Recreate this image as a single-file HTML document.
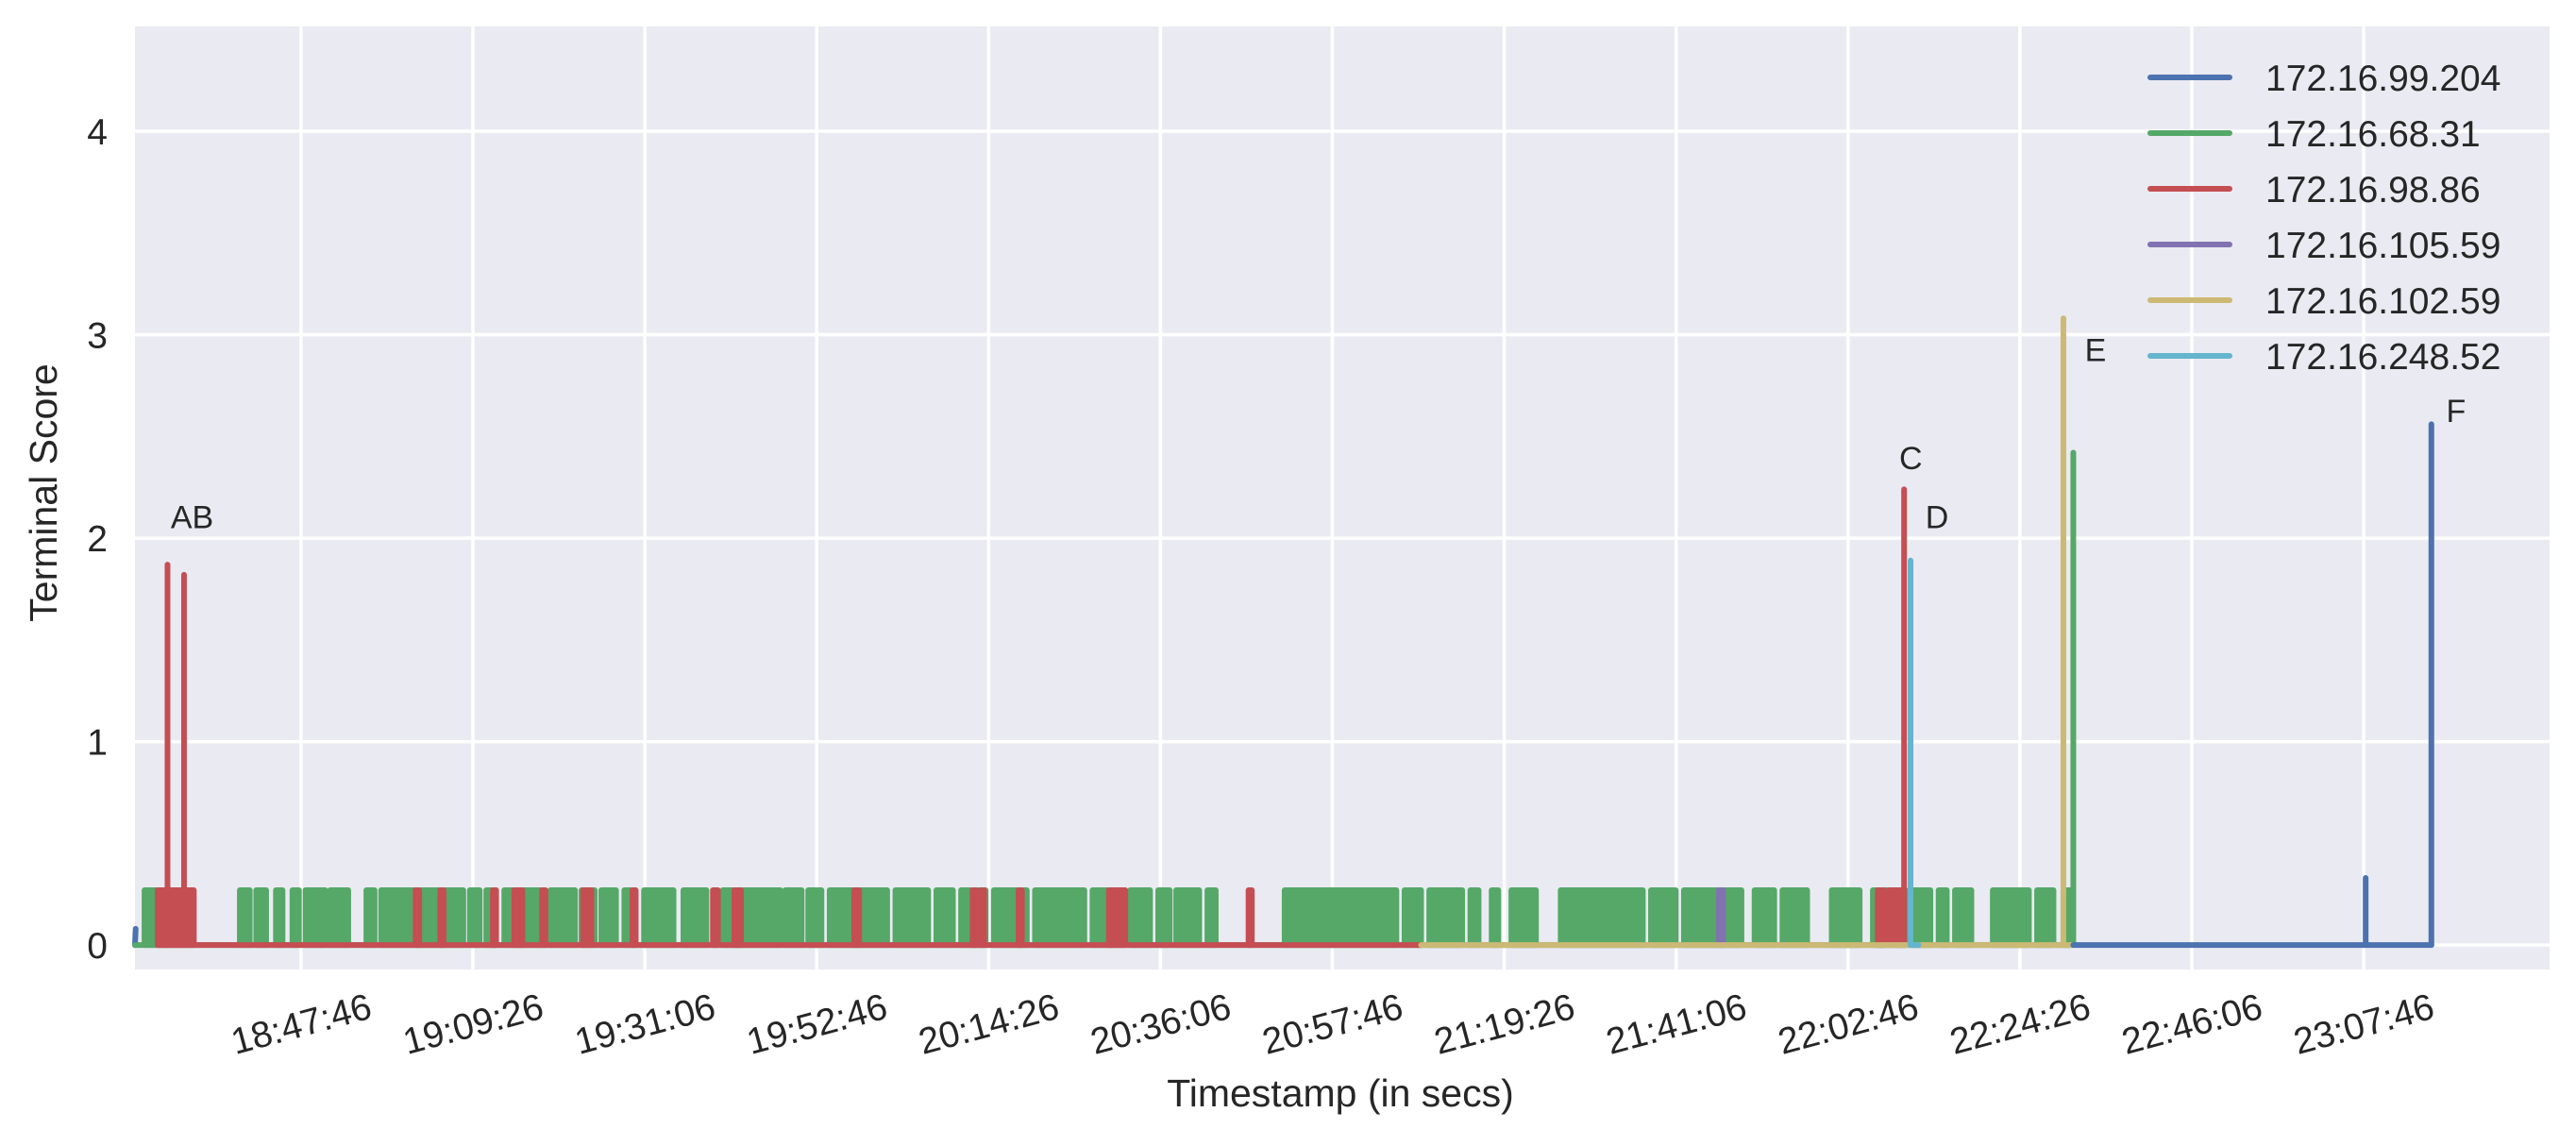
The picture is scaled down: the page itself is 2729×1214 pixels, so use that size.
<!DOCTYPE html>
<html><head><meta charset="utf-8"><style>
html,body{margin:0;padding:0;background:#fff;}
svg{display:block;font-family:"Liberation Sans",sans-serif;}
</style></head><body>
<svg id="chart" width="2729" height="1214" viewBox="0 0 2729 1214" xmlns="http://www.w3.org/2000/svg"></svg>
<script>
// x values are seconds since 18:00:00
const xTickLabels = ["18:47:46","19:09:26","19:31:06","19:52:46","20:14:26","20:36:06","20:57:46","21:19:26","21:41:06","22:02:46","22:24:26","22:46:06","23:07:46"];
const xTickValues = [2866,4166,5466,6766,8066,9366,10666,11966,13266,14566,15866,17166,18466];
const yTicks = [0,1,2,3,4];
const seriesNames = ["172.16.99.204","172.16.68.31","172.16.98.86","172.16.105.59","172.16.102.59","172.16.248.52"];
const seriesColors = ["#4c72b0","#55a868","#c44e52","#8172b2","#ccb974","#64b5cd"];
const greenPulses = [[1682,1782],[1844,1869],[2403,2478],[2527,2602],[2676,2726],[2801,2850],[2900,3049],[3086,3223],[3360,3422],[3472,3720],[3745,4093],[4143,4217],[4267,4341],[4403,4689],[4751,4938],[4987,5087],[5137,5248],[5311,5385],[5460,5683],[5758,5932],[6056,6491],[6528,6652],[6702,6802],[6864,7299],[7361,7609],[7671,7796],[7858,8044],[8106,8355],[8417,8790],[8852,9038],[9137,9287],[9349,9436],[9485,9659],[9721,9784],[10305,11150],[11212,11337],[11399,11648],[11710,11772],[11871,11921],[12020,12206],[12393,13014],[13076,13263],[13325,13760],[13859,14008],[14070,14257],[14443,14654],[14754,14878],[14940,15002],[15064,15189],[15251,15313],[15375,15499],[15661,15934],[15996,16120],[16195,16245]];
const greenPulseHeight = 0.27;
const greenSpike = [16270, 2.42];
const redPulses = [[1782,2055],[3732,3760],[3919,3944],[4317,4341],[4478,4540],[4689,4714],[5000,5062],[5373,5397],[5981,6019],[6143,6193],[7050,7087],[7945,7970],[8007,8032],[8293,8318],[8976,9100],[10032,10057],[14791,14841],[14878,14965]];
const redSpikes = [[1856,1.87],[1981,1.82],[14990,2.24]];
const redRange = [1782,11337];
const yellowRange = [11337,16270];
const yellowSpike = [16195,3.08];
const cyanSpike = [15039,1.89];
const cyanRange = [15039,15100];
const purplePulse = [13590,13620,0.27];
const blueStart = [1615,0.08];
const blueRange = [16270,18978];
const blueSpikes = [[18481,0.33],[18978,2.56]];
const annotations = [["AB",1880,2.05],["C",14953,2.34],["D",15151,2.05],["E",16357,2.87],["F",19090,2.57]];

const X0=143,X1=2701,Y0=28,Y1=1027;
const xMin=1610,xMax=19872,yMin=-0.12,yMax=4.515;
const sx=v=>X0+(v-xMin)/(xMax-xMin)*(X1-X0);
const sy=v=>Y1-(v-yMin)/(yMax-yMin)*(Y1-Y0);
const svg=document.getElementById('chart');
const NS="http://www.w3.org/2000/svg";
function mk(tag,attrs,parent){const e=document.createElementNS(NS,tag);for(const k in attrs)e.setAttribute(k,attrs[k]);(parent||svg).appendChild(e);return e;}

const bg=mk('rect',{x:X0,y:Y0,width:X1-X0,height:Y1-Y0,fill:'#eaeaf2'});


xTickValues.forEach((v,i)=>{
  const g=mk('line',{x1:sx(v),x2:sx(v),y1:Y0,y2:Y1,stroke:'#fff','stroke-width':3.5});
  
  
  const t=mk('text',{x:sx(v),y:1098,'text-anchor':'middle','font-size':39,fill:'#262626',transform:`rotate(-15 ${sx(v)} 1084)`});
  t.textContent=xTickLabels[i];
  
  
});
yTicks.forEach(v=>{
  const g=mk('line',{x1:X0,x2:X1,y1:sy(v),y2:sy(v),stroke:'#fff','stroke-width':3.5});
  
  
  const t=mk('text',{x:114,y:sy(v)+14,'text-anchor':'end','font-size':39,fill:'#262626'});
  t.textContent=v;
  
  
});

function pulsePath(base, pulses, h){
  let d='';
  pulses.forEach(p=>{d+=`M${sx(p[0])},${sy(base)}L${sx(p[0])},${sy(h)}L${sx(p[1])},${sy(h)}L${sx(p[1])},${sy(base)}Z`;});
  return d;
}
function line(d,color,name){
  const p=mk('path',{d:d,stroke:color,'stroke-width':6,fill:'none','stroke-linejoin':'round','stroke-linecap':'round'});
  
  
  return p;
}
function fillPulses(pulses,h,color,name){
  const p=mk('path',{d:pulsePath(0,pulses,h),fill:color,stroke:color,'stroke-width':6,'stroke-linejoin':'round'});
  
  
}
function spike(x,h){return `M${sx(x)},${sy(0)}L${sx(x)},${sy(h)}`;}

line(`M${sx(xMin)},${sy(0)}L${sx(blueStart[0])},${sy(blueStart[1])}`,seriesColors[0],'series-172-16-99-204-start');
line(`M${sx(xMin)},${sy(0)}L${sx(greenSpike[0])},${sy(0)}`,seriesColors[1],'series-172-16-68-31-baseline');
fillPulses(greenPulses,greenPulseHeight,seriesColors[1],'series-172-16-68-31-pulses');
line(spike(greenSpike[0],greenSpike[1]),seriesColors[1],'series-172-16-68-31-spike');
line(`M${sx(redRange[0])},${sy(0)}L${sx(redRange[1])},${sy(0)}`,seriesColors[2],'series-172-16-98-86-baseline');
fillPulses(redPulses,greenPulseHeight,seriesColors[2],'series-172-16-98-86-pulses');
redSpikes.forEach(s=>line(spike(s[0],s[1]),seriesColors[2],'series-172-16-98-86-spike'));
fillPulses([[purplePulse[0],purplePulse[1]]],purplePulse[2],seriesColors[3],'series-172-16-105-59');
line(`M${sx(yellowRange[0])},${sy(0)}L${sx(yellowRange[1])},${sy(0)}`,seriesColors[4],'series-172-16-102-59-baseline');
line(spike(yellowSpike[0],yellowSpike[1]),seriesColors[4],'series-172-16-102-59-spike');
line(`M${sx(cyanRange[0])},${sy(0)}L${sx(cyanRange[1])},${sy(0)}`+spike(cyanSpike[0],cyanSpike[1]),seriesColors[5],'series-172-16-248-52');
line(`M${sx(blueRange[0])},${sy(0)}L${sx(blueRange[1])},${sy(0)}`,seriesColors[0],'series-172-16-99-204-baseline');
blueSpikes.forEach(s=>line(spike(s[0],s[1]),seriesColors[0],'series-172-16-99-204-spike'));

annotations.forEach(a=>{
  const t=mk('text',{x:sx(a[1]),y:sy(a[2]),'text-anchor':'start','font-size':34,fill:'#262626'});
  t.textContent=a[0];
  
  
});

seriesNames.forEach((n,i)=>{
  const y=82+i*59;
  const l=mk('line',{x1:2278,x2:2362,y1:y,y2:y,stroke:seriesColors[i],'stroke-width':6,'stroke-linecap':'round'});
  
  
  const t=mk('text',{x:2400,y:y+14,'font-size':39,fill:'#262626'});
  t.textContent=n;
  
  
});

const xt=mk('text',{x:1420,y:1172,'text-anchor':'middle','font-size':41,fill:'#262626'});
xt.textContent='Timestamp (in secs)';


const yt=mk('text',{x:0,y:0,'text-anchor':'middle','font-size':41,fill:'#262626',transform:'translate(60,522) rotate(-90)'});
yt.textContent='Terminal Score';


</script>
</body></html>
